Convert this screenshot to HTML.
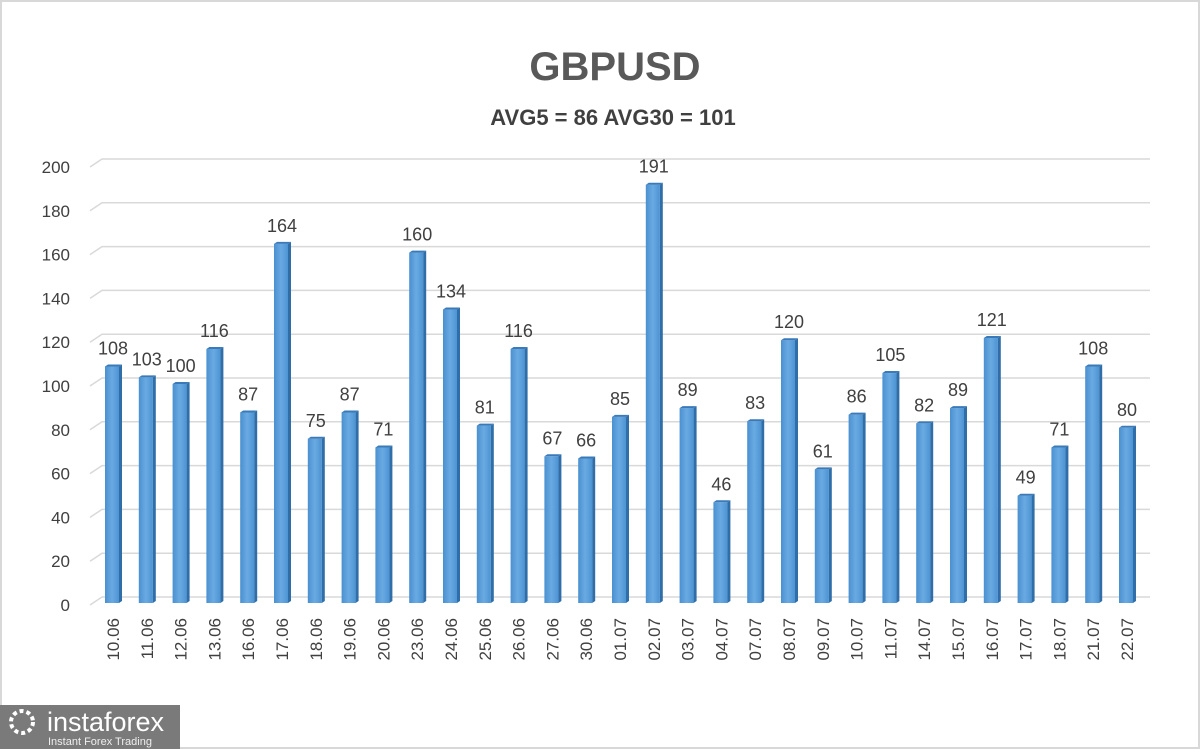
<!DOCTYPE html>
<html><head><meta charset="utf-8"><style>
body{margin:0;background:#fff;}
#wrap{position:relative;width:1200px;height:749px;overflow:hidden;background:#fff;font-family:"Liberation Sans",sans-serif;}
</style></head><body>
<div id="wrap">
<svg id="chart" width="1200" height="749">
<defs>
<linearGradient id="gf" x1="0" x2="1" y1="0" y2="0"><stop offset="0" stop-color="#4a90d0"/><stop offset="0.5" stop-color="#6aaae2"/><stop offset="1" stop-color="#4d94d4"/></linearGradient>
</defs>
<rect x="1" y="1" width="1198" height="747" fill="none" stroke="#d8d8d8" stroke-width="2"/>
<text x="615" y="80" text-anchor="middle" font-size="40" font-weight="bold" fill="#595959">GBPUSD</text>
<text x="613" y="125" text-anchor="middle" font-size="22" font-weight="bold" fill="#404040">AVG5 = 86 AVG30 = 101</text>
<g id="grid"></g><g id="bars"></g><g id="labels"></g>
<g>
<rect x="0" y="705" width="180" height="44" fill="#7a7a7a"/>
<circle cx="22" cy="722" r="11" fill="none" stroke="#fff" stroke-width="4" stroke-dasharray="4 3"/>
<text x="47" y="731" font-size="27" fill="#fff">instaforex</text>
<text x="48" y="745" font-size="11" fill="#eee">Instant Forex Trading</text>
</g>
</svg>
</div>
<script>
const categories=["10.06","11.06","12.06","13.06","16.06","17.06","18.06","19.06","20.06","23.06","24.06","25.06","26.06","27.06","30.06","01.07","02.07","03.07","04.07","07.07","08.07","09.07","10.07","11.07","14.07","15.07","16.07","17.07","18.07","21.07","22.07"];
const values=[108,103,100,116,87,164,75,87,71,160,134,81,116,67,66,85,191,89,46,83,120,61,86,105,82,89,121,49,71,108,80];
const yTicks=[0,20,40,60,80,100,120,140,160,180,200];
const NS="http://www.w3.org/2000/svg";
const base=603,scale=2.19,x0=113,x1=1127;
function y(v){return base-v*scale;}
function x(i){return x0+i*(x1-x0)/(categories.length-1);}
function mk(t,a,p){const e=document.createElementNS(NS,t);for(const k in a)e.setAttribute(k,a[k]);p.appendChild(e);return e;}
const g=document.getElementById('grid'),b=document.getElementById('bars'),l=document.getElementById('labels');
yTicks.forEach(v=>{
 const gy=y(v)-6;
 const ln=mk('polyline',{points:`90,${gy+8} 102,${gy} 1150,${gy}`,fill:'none',stroke:'#d9d9d9','stroke-width':1.5},g);
 
 
 const t=mk('text',{x:70,y:y(v)+8,'text-anchor':'end','font-size':17,fill:'#404040'},g);
 t.textContent=v;
 
 
});
categories.forEach((c,i)=>{
 const cx=x(i),v=values[i],top=y(v);
 const r=mk('rect',{x:cx-8,y:top,width:14,height:base-top,fill:'url(#gf)'},b);
 
 
 const s=mk('polygon',{points:`${cx+6},${top} ${cx+9},${top-2} ${cx+9},${base-2} ${cx+6},${base}`,fill:'#2f6ea8'},b);
 
 
 const tp=mk('polygon',{points:`${cx-8},${top} ${cx-5},${top-2} ${cx+9},${top-2} ${cx+6},${top}`,fill:'#3a7ab8'},b);
 
 
 const vt=mk('text',{x:cx,y:top-12,'text-anchor':'middle','font-size':18,fill:'#404040'},l);
 vt.textContent=v;
 
 
 const xt=mk('text',{x:0,y:0,'text-anchor':'end','font-size':17,fill:'#404040',transform:`translate(${cx+6},618) rotate(-90)`},l);
 xt.textContent=c;
 
 
});
</script>
</body></html>
